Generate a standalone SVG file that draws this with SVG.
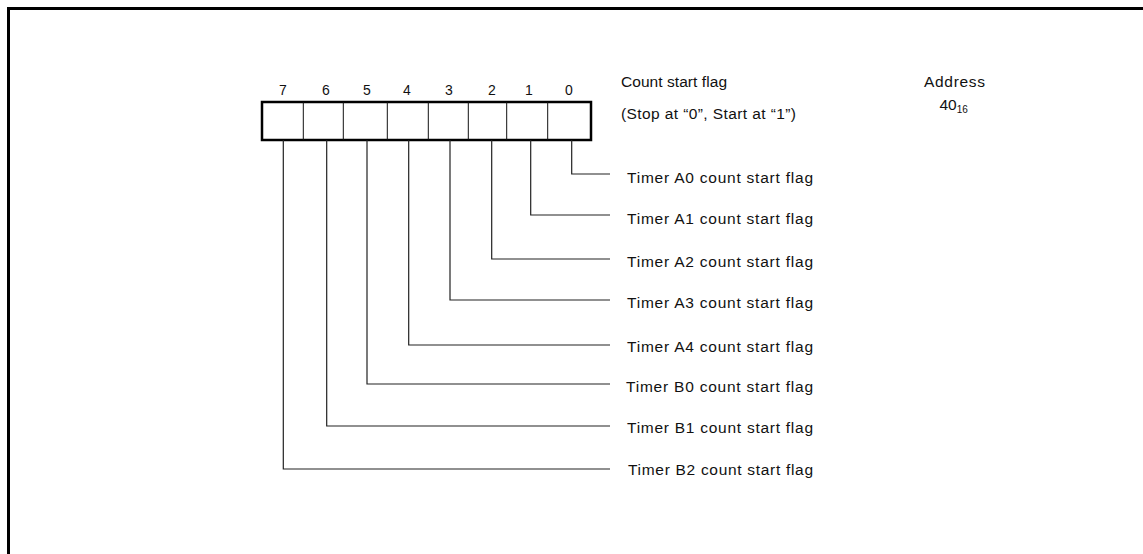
<svg xmlns="http://www.w3.org/2000/svg" width="1143" height="554" viewBox="0 0 1143 554">
<style>
text{font-family:"Liberation Sans",Arial,sans-serif;fill:#111;font-size:15.5px}
.bit{text-anchor:middle;font-size:14px}
.conn{fill:none;stroke:#222;stroke-width:1.2}
.cell{fill:#fff;stroke:#111;stroke-width:1}
</style>
<rect width="1143" height="554" fill="#fff"/>
<path d="M8.5 554 V8.5 H1143" fill="none" stroke="#000" stroke-width="3"/>
<g id="register">
<rect x="262" y="102" width="329" height="38" fill="#fff" stroke="#000" stroke-width="2.5"/>
<path d="M303.3 102V140M343.3 102V140M387.3 102V140M428.3 102V140M468.3 102V140M506.7 102V140M547.7 102V140" class="cell"/>
<text class="bit" x="283" y="95">7</text>
<text class="bit" x="326" y="95">6</text>
<text class="bit" x="367" y="95">5</text>
<text class="bit" x="407" y="95">4</text>
<text class="bit" x="449" y="95">3</text>
<text class="bit" x="492" y="95">2</text>
<text class="bit" x="529" y="95">1</text>
<text class="bit" x="569" y="95">0</text>
</g>
<g id="title">
<text x="621" y="87" textLength="106" lengthAdjust="spacing">Count start flag</text>
<text x="621" y="119" textLength="175" lengthAdjust="spacing">(Stop at “0”, Start at “1”)</text>
</g>
<g id="address">
<text x="924" y="87" textLength="61" lengthAdjust="spacing">Address</text>
<text x="939.5" y="110" font-size="14">40<tspan font-size="10" dy="2.5">16</tspan></text>
</g>
<g id="connectors">
<path class="conn" d="M571.7 140V174H610"/>
<path class="conn" d="M530.7 140V215H610"/>
<path class="conn" d="M491.7 140V259H610"/>
<path class="conn" d="M450 140V300H610"/>
<path class="conn" d="M408.7 140V345H610"/>
<path class="conn" d="M367 140V384H610"/>
<path class="conn" d="M326.7 140V426H610"/>
<path class="conn" d="M283.3 140V469H610"/>
</g>
<g id="flag0"><text x="627" y="183" textLength="186" lengthAdjust="spacing">Timer A0 count start flag</text></g>
<g id="flag1"><text x="627" y="224" textLength="186" lengthAdjust="spacing">Timer A1 count start flag</text></g>
<g id="flag2"><text x="627" y="267" textLength="186" lengthAdjust="spacing">Timer A2 count start flag</text></g>
<g id="flag3"><text x="627" y="308" textLength="186" lengthAdjust="spacing">Timer A3 count start flag</text></g>
<g id="flag4"><text x="627" y="352" textLength="186" lengthAdjust="spacing">Timer A4 count start flag</text></g>
<g id="flag5"><text x="626" y="392" textLength="187" lengthAdjust="spacing">Timer B0 count start flag</text></g>
<g id="flag6"><text x="627" y="433" textLength="186" lengthAdjust="spacing">Timer B1 count start flag</text></g>
<g id="flag7"><text x="628" y="475" textLength="185" lengthAdjust="spacing">Timer B2 count start flag</text></g>
</svg>
